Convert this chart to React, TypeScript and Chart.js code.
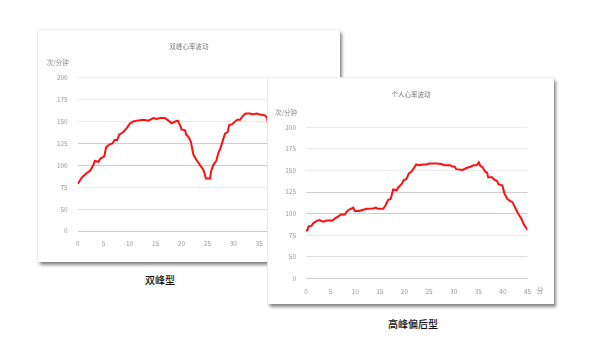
import React, { useEffect, useRef } from "react";
import { Chart, registerables } from "chart.js";

Chart.register(...registerables);

// ---- data ----
const doublePeakTitle = "双峰心率波动";
const doublePeakCaption = "双峰型";
const doublePeakMinutes = [0, 0.15, 0.45, 0.95, 1.7, 2.4, 3.0, 3.3, 4.0, 4.4, 5.1, 5.5, 6.2, 6.7, 7.1, 7.6, 8.0, 8.8, 9.4, 10.1, 10.7, 11.4, 12.7, 13.6, 14.6, 15.2, 15.9, 16.8, 17.5, 18.1, 18.8, 19.3, 19.7, 20.0, 20.7, 20.9, 21.3, 21.8, 22.3, 22.9, 23.6, 24.1, 24.4, 24.7, 25.5, 25.7, 26.1, 26.7, 27.1, 27.6, 28.1, 28.4, 28.9, 29.2, 29.8, 30.3, 30.8, 31.3, 31.9, 32.4, 33.2, 33.7, 34.5, 35.1, 36.1, 36.5, 36.7, 37.5];
const doublePeakBpm = [79, 80, 83, 87, 91, 94, 100, 105, 104, 108, 110, 121, 124, 125, 129, 129, 135, 138, 142, 148, 150, 151, 152, 151, 154, 153, 154, 154, 151, 148, 150, 151, 146, 141, 140, 135, 133, 127, 112, 106, 100, 96, 92, 85, 85, 93, 100, 105, 114, 121, 131, 136, 138, 146, 147, 150, 152, 152, 157, 159, 159, 158, 159, 158, 157, 154, 146, 140];

const latePeakTitle = "个人心率波动";
const latePeakCaption = "高峰偏后型";
const latePeakMinutes = [0, 0.3, 0.5, 1.15, 1.5, 2.2, 2.7, 3.5, 4.2, 5.4, 5.9, 6.5, 7.1, 7.9, 8.4, 8.9, 9.6, 9.9, 10.8, 11.6, 12.4, 13.6, 14.2, 14.6, 15.7, 16.2, 16.7, 17.2, 17.7, 18.4, 18.7, 19.4, 19.9, 20.4, 20.9, 21.4, 21.9, 22.4, 22.9, 23.8, 24.4, 25.1, 26.5, 27.5, 28.1, 29.3, 29.7, 30.2, 30.5, 31.8, 32.5, 33.5, 34.0, 34.7, 35.1, 35.4, 35.9, 36.4, 36.8, 37.0, 37.8, 38.3, 38.8, 39.1, 39.9, 40.3, 40.9, 41.5, 42.0, 42.3, 43.0, 43.7, 44.3, 45];
const latePeakBpm = [80, 81, 85, 86, 89, 91.5, 92.5, 90.5, 92, 92, 94.5, 96.5, 99, 99, 103, 105, 107, 103, 103, 104.5, 105.5, 106, 107, 105.5, 105.5, 110, 116, 117, 128, 127, 130, 134, 139, 140, 146.5, 148.5, 152.5, 157, 156, 157, 157, 158, 158, 157.5, 156, 156, 154.5, 154.5, 151.5, 150.5, 152.5, 154.5, 156, 156, 159.5, 155.5, 153.5, 148.5, 147.5, 142, 142, 139, 138, 134, 132.5, 123.5, 117, 114.5, 113, 109, 101, 94.5, 87, 81];

const yUnit = "次/分钟";
const xUnit = "分";
const yMin = 25; // shown as "0"
const yMax = 200;
const yStep = 25;
const xMax = 45;
const xStep = 5;

const FONT = '"Noto Sans CJK SC", "Noto Sans", sans-serif';

const textPlugin = {
  id: "cardText",
  afterDraw(chart: any, _args: any, opts: any) {
    const { ctx, chartArea } = chart;
    ctx.save();
    ctx.textAlign = "center";
    ctx.textBaseline = "middle";
    ctx.fillStyle = "#777";
    ctx.font = `6.5px ${FONT}`;
    ctx.fillText(opts.title, chart.width / 2, 17);
    ctx.fillStyle = "#888";
    ctx.fillText(yUnit, chartArea.left - 20, chartArea.top - 15);
    ctx.fillText(xUnit, chartArea.right + 12.5, chartArea.bottom + 12.7);
    ctx.restore();
  },
};

type CardProps = {
  minutes: number[];
  bpm: number[];
  title: string;
  left: number;
  top: number;
  width: number;
  height: number;
  area: { left: number; top: number; right: number; bottom: number };
  z: number;
};

function HeartCard(p: CardProps) {
  const ref = useRef<HTMLCanvasElement | null>(null);
  useEffect(() => {
    if (!ref.current) return;
    const pts = p.minutes.map((m, i) => ({ x: m, y: p.bpm[i] }));
    const chart = new Chart(ref.current, {
      type: "line",
      data: {
        datasets: [
          {
            data: pts,
            borderColor: "#ff1010",
            borderWidth: 2,
            pointRadius: 0,
            tension: 0,
            fill: false,
          },
        ],
      },
      options: {
        animation: false,
        responsive: false,
        devicePixelRatio: 1,
        layout: {
          padding: { left: 0, top: p.area.top, right: p.width - p.area.right, bottom: 0 },
        },
        plugins: {
          legend: { display: false },
          tooltip: { enabled: false },
          cardText: { title: p.title },
        } as any,
        scales: {
          x: {
            type: "linear",
            min: 0,
            max: xMax,
            afterFit: (s: any) => {
              s.height = p.height - p.area.bottom;
            },
            ticks: {
              stepSize: xStep,
              padding: 9,
              color: "#999",
              font: { size: 6.5, family: FONT },
              maxRotation: 0,
            },
            grid: { display: false, drawTicks: false },
            border: { display: false },
          },
          y: {
            type: "linear",
            min: yMin,
            max: yMax,
            afterFit: (s: any) => {
              s.width = p.area.left;
            },
            ticks: {
              stepSize: yStep,
              padding: 10,
              color: "#999",
              font: { size: 6.5, family: FONT },
              callback: (v: any) => (v === yMin ? "0" : String(v)),
            },
            grid: {
              drawTicks: false,
              color: (c: any) => {
                const v = c.tick ? c.tick.value : 0;
                if (v === 25 || v === 100 || v === 125) return "#cdcdcd";
                if (v === 50) return "#dedede";
                return "#ececec";
              },
              lineWidth: 1,
            },
            border: { display: false },
          },
        },
      },
      plugins: [textPlugin],
    } as any);
    return () => chart.destroy();
  }, []);
  return (
    <div
      style={{
        position: "absolute",
        left: p.left,
        top: p.top,
        width: p.width,
        height: p.height,
        background: "#fff",
        boxShadow: "2px 3px 3px rgba(0,0,0,0.45), 0 0 0 1px #efefef",
        zIndex: p.z,
      }}
    >
      <canvas ref={ref} width={p.width} height={p.height} style={{ display: "block" }} />
    </div>
  );
}

export default function App() {
  return (
    <div
      style={{
        position: "absolute",
        left: 0,
        top: 0,
        width: 600,
        height: 360,
        background: "#fff",
        overflow: "hidden",
        fontFamily: FONT,
      }}
    >
      <HeartCard
        minutes={doublePeakMinutes}
        bpm={doublePeakBpm}
        title={doublePeakTitle}
        left={38}
        top={30}
        width={302}
        height={232}
        area={{ left: 39.7, top: 47.7, right: 273.2, bottom: 201 }}
        z={1}
      />
      <div
        style={{
          position: "absolute",
          left: 110,
          width: 100,
          top: 273,
          textAlign: "center",
          fontSize: 10,
          fontWeight: 500,
          color: "#111",
          lineHeight: "14px",
        }}
      >
        {doublePeakCaption}
      </div>
      <HeartCard
        minutes={latePeakMinutes}
        bpm={latePeakBpm}
        title={latePeakTitle}
        left={268}
        top={78}
        width={286}
        height={226}
        area={{ left: 38, top: 49.3, right: 259.5, bottom: 200.3 }}
        z={2}
      />
      <div
        style={{
          position: "absolute",
          left: 363,
          width: 100,
          top: 317,
          textAlign: "center",
          fontSize: 10,
          fontWeight: 500,
          color: "#111",
          lineHeight: "14px",
        }}
      >
        {latePeakCaption}
      </div>
    </div>
  );
}
